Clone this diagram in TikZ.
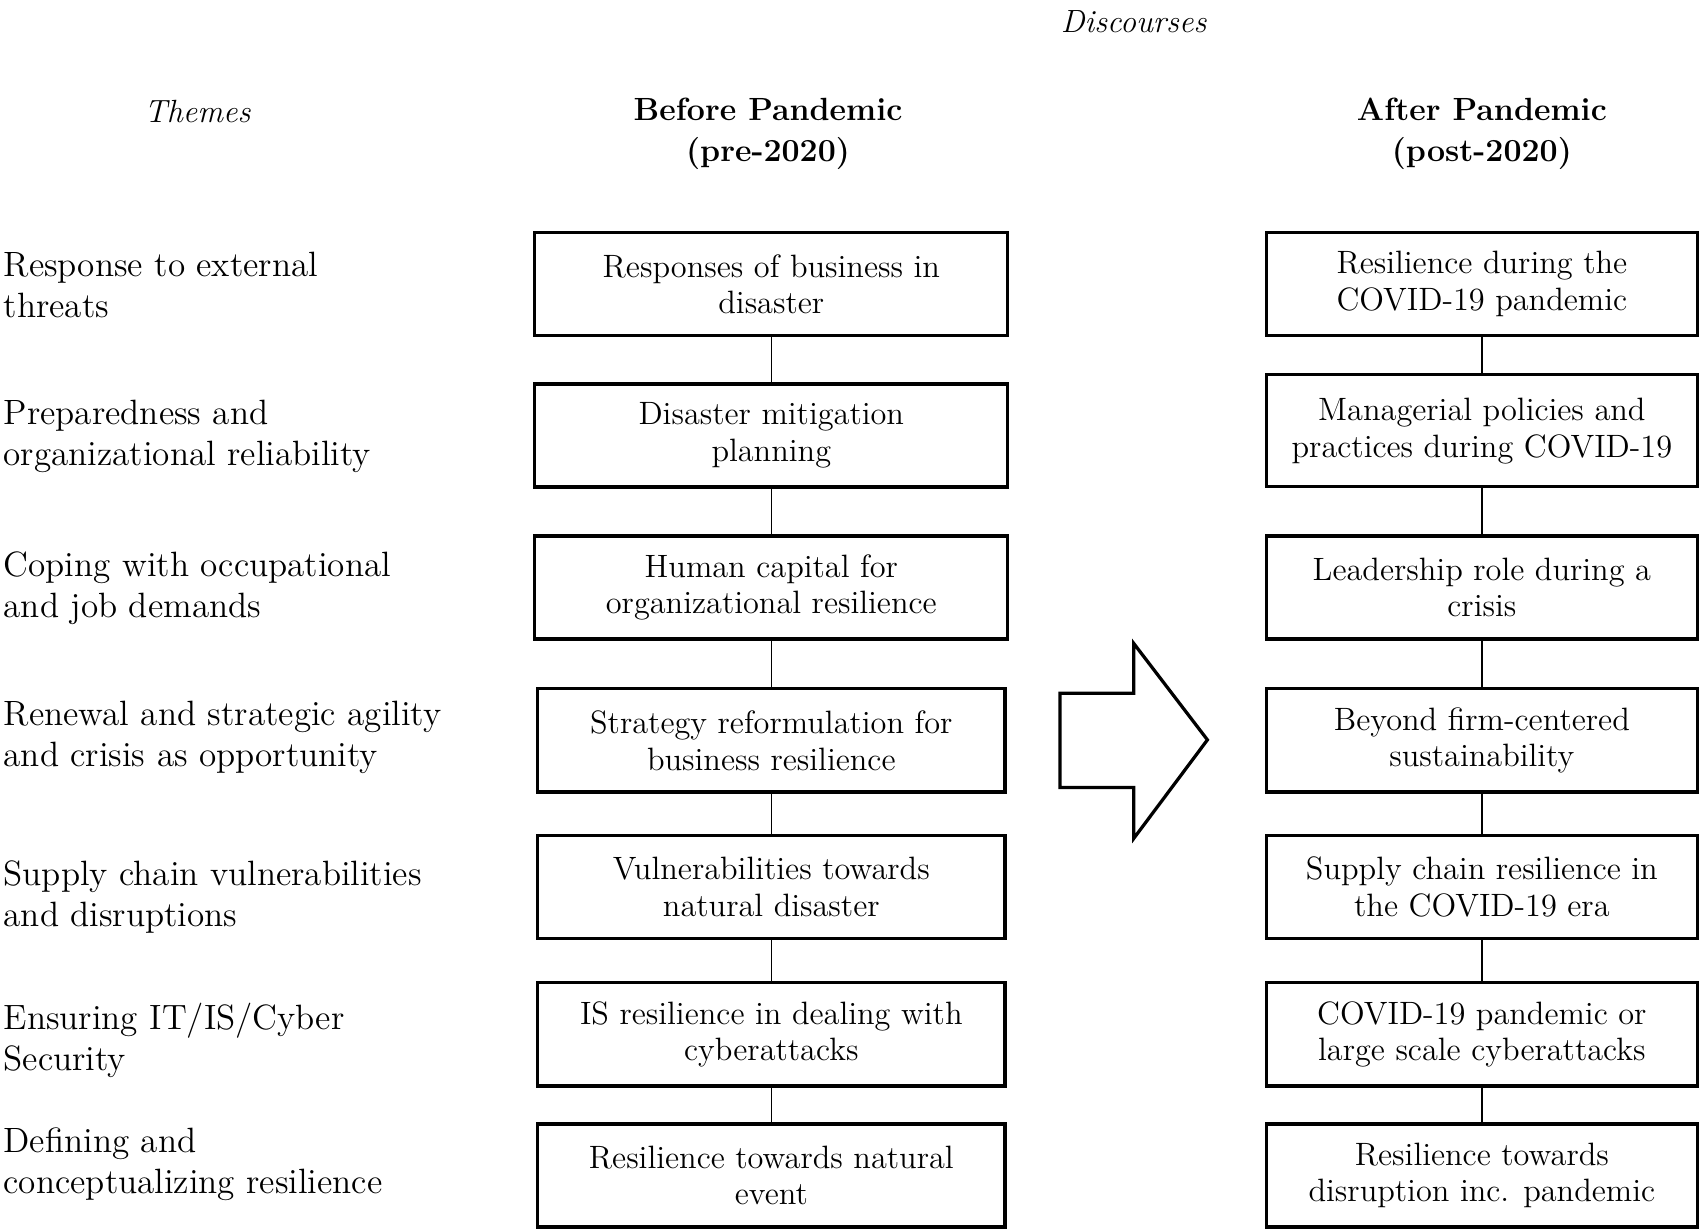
\documentclass[tikz,border=0pt]{standalone}
\usepackage{fontspec}
\setmainfont{lmroman12-regular.otf}[BoldFont=lmroman12-bold.otf, ItalicFont=lmroman12-italic.otf]
\begin{document}
\begin{tikzpicture}[x=0.5pt,y=-0.5pt,
  box/.style={draw, line width=1.5pt, align=center, inner sep=0pt, minimum height=47.5pt, font=\fontsize{14.9}{17}\selectfont},
  lboxa/.style={box, minimum width=218pt},
  lboxb/.style={box, minimum width=215.5pt},
  rbox/.style={box, minimum width=198.5pt},
  link/.style={line width=0.6pt},
  theme/.style={anchor=west, align=left, inner sep=0pt, font=\fontsize{16.2}{19}\selectfont},
  head/.style={align=center, inner sep=0pt, font=\bfseries\fontsize{14.8}{19}\selectfont},
  ital/.style={inner sep=0pt, font=\itshape\fontsize{14.8}{19}\selectfont},
  bigarrow/.style={draw, line width=1.5pt, line join=miter}]
\useasboundingbox (0,0) rectangle (1568,1135);

% headers
\node[ital] (disc) at (1045,20) {Discourses};
\node[ital] (themes) at (182,103) {Themes};
\node[head] (before) at (708,123) {Before Pandemic\\(pre-2020)};
\node[head] (after) at (1366,123) {After Pandemic\\(post-2020)};

% themes
\node[theme] (t1) at (3,262.5) {Response to external\\threats};
\node[theme] (t2) at (3,402) {Preparedness and\\organizational reliability};
\node[theme] (t3) at (3,542) {Coping with occupational\\and job demands};
\node[theme] (t4) at (3,680) {Renewal and strategic agility\\and crisis as opportunity};
\node[theme] (t5) at (3,827) {Supply chain vulnerabilities\\and disruptions};
\node[theme] (t6) at (3,959) {Ensuring IT/IS/Cyber\\Security};
\node[theme] (t7) at (3,1073) {Defining and\\conceptualizing resilience};

% before pandemic column
\node[lboxa] (L1) at (711,262) {Responses of business in\\disaster};
\node[lboxa] (L2) at (711,401.5) {Disaster mitigation\\planning};
\node[lboxa] (L3) at (711,541.5) {Human capital for\\organizational resilience};
\node[lboxb] (L4) at (711,682.5) {Strategy reformulation for\\business resilience};
\node[lboxb] (L5) at (711,817.5) {Vulnerabilities towards\\natural disaster};
\node[lboxb] (L6) at (711,953.5) {IS resilience in dealing with\\cyberattacks};
\node[lboxb] (L7) at (711,1083.5) {Resilience towards natural\\event};

% after pandemic column
\node[rbox] (R1) at (1366,262) {Resilience during the\\COVID-19 pandemic};
\node[rbox, minimum height=51.5pt] (R2) at (1366,397) {Managerial policies and\\practices during COVID-19};
\node[rbox] (R3) at (1366,541.5) {Leadership role during a\\crisis};
\node[rbox] (R4) at (1366,682.5) {Beyond firm-centered\\sustainability};
\node[rbox] (R5) at (1366,817.5) {Supply chain resilience in\\the COVID-19 era};
\node[rbox] (R6) at (1366,953.5) {COVID-19 pandemic or\\large scale cyberattacks};
\node[rbox] (R7) at (1366,1083.5) {Resilience towards\\disruption inc. pandemic};

% connectors
\foreach \a/\b in {L1/L2,L2/L3,L3/L4,L4/L5,L5/L6,L6/L7,R1/R2,R2/R3,R3/R4,R4/R5,R5/R6,R6/R7}
  \draw[link] (\a) -- (\b);

% big arrow
\draw[bigarrow] (977,639) -- (1045,639) -- (1045,593) -- (1113,682) -- (1045,773) -- (1045,726) -- (977,726) -- cycle;
\end{tikzpicture}
\end{document}
